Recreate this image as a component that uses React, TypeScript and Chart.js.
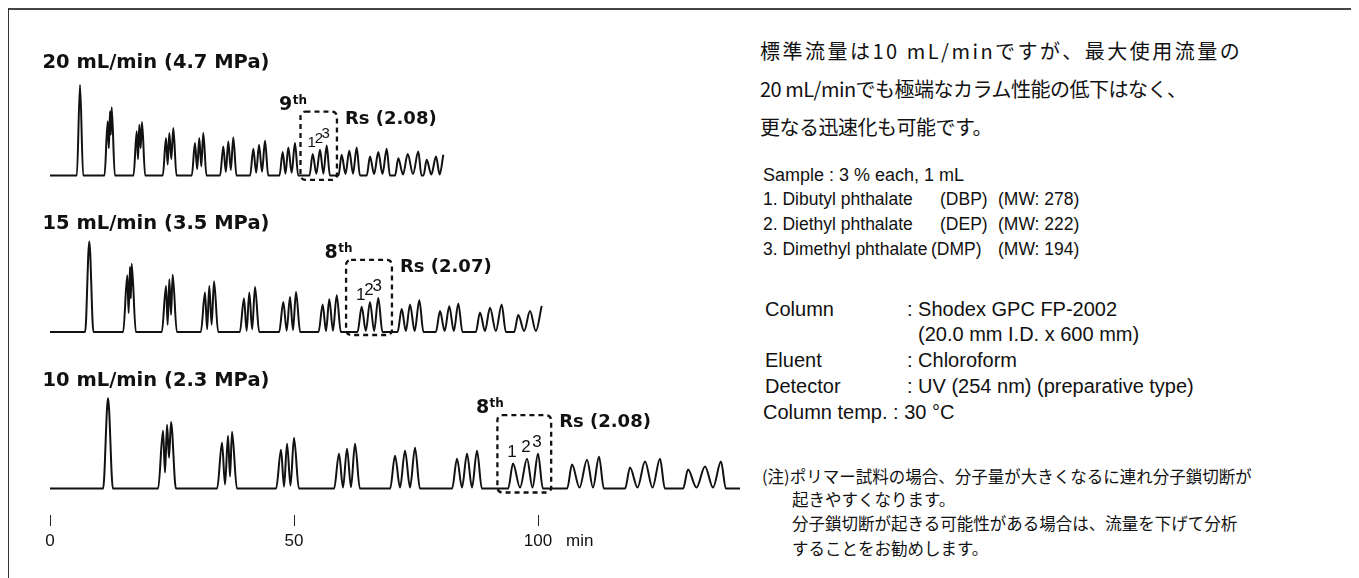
import React, { useEffect, useRef } from "react";
import { Chart, registerables } from "chart.js";

Chart.register(...registerables);

// ---------- text ----------
const TRACE_LABELS = ["20 mL/min (4.7 MPa)", "15 mL/min (3.5 MPa)", "10 mL/min (2.3 MPa)"];
const HIGHLIGHT_CYCLE = [9, 8, 8];
const RS_VALUES = ["2.08", "2.07", "2.08"];
const PEAK_NUMBERS = ["1", "2", "3"];
const X_TICKS = [0, 50, 100];
const X_UNIT = "min";

const HEADLINE = [
  "標準流量は10 mL/minですが、最大使用流量の",
  "20 mL/minでも極端なカラム性能の低下はなく、",
  "更なる迅速化も可能です。",
];
const SAMPLE_LINE = "Sample : 3 % each, 1 mL";
const COMPOUNDS = ["1. Dibutyl phthalate", "2. Diethyl phthalate", "3. Dimethyl phthalate"];
const ABBREVIATIONS = ["(DBP)", "(DEP)", "(DMP)"];
const MOL_WEIGHTS = ["(MW: 278)", "(MW: 222)", "(MW: 194)"];
const CONDITION_KEYS = ["Column", "", "Eluent", "Detector"];
const CONDITION_VALUES = [": Shodex GPC FP-2002", "(20.0 mm I.D. x 600 mm)", ": Chloroform", ": UV (254 nm) (preparative type)"];
const TEMP_LINE = "Column temp. : 30 °C";
const NOTE_LINES = [
  "(注)ポリマー試料の場合、分子量が大きくなるに連れ分子鎖切断が",
  "起きやすくなります。",
  "分子鎖切断が起きる可能性がある場合は、流量を下げて分析",
  "することをお勧めします。",
];

// ---------- chromatogram data (apex time in min, apex height, valley height between apexes) ----------
// 20 mL/min
const RT_20 = [
  [6.15], [11.82, 12.3, 12.64], [17.77, 18.3, 18.85], [23.77, 24.45, 25.27], [29.71, 30.59, 31.41],
  [35.51, 36.54, 37.56], [41.66, 42.83, 44.06], [47.68, 48.83, 50.2], [53.83, 55.33, 56.7],
  [59.77, 61.33, 62.85], [65.57, 67.27, 69.0], [71.37, 73.3, 75.47], [77.19, 79.1, 80.6],
];
const H_20 = [
  [100], [59.8, 70.9, 75.3], [48.7, 56.1, 59.1], [41.3, 46.9, 52.4], [35.8, 41.3, 46.9],
  [32.0, 37.6, 42.0], [29.4, 33.9, 38.3], [25.8, 30.9, 35.8], [23.6, 28.3, 33.1],
  [22.8, 27.2, 30.9], [20.9, 25.8, 29.4], [19.1, 23.6, 26.4], [17.2, 20.9, 22.8],
];
const V_20 = [
  [], [30, 45], [18, 30], [12, 18], [7, 10], [4, 6], [3, 4], [2, 3], [2, 2], [1.5, 2], [1.5, 1.5], [1, 1.5], [1, 1],
];
// 15 mL/min
const RT_15 = [
  [8.05], [15.84, 16.39, 16.74], [23.77, 24.45, 25.14], [31.76, 32.64, 33.61], [39.75, 40.84, 42.01],
  [47.81, 49.18, 50.41], [55.88, 57.23, 58.75], [63.87, 65.57, 67.27], [72.07, 73.77, 75.68],
  [79.92, 81.82, 83.67], [88.11, 90.16, 92.56], [95.96, 98.36, 100.76],
];
const H_15 = [
  [100], [62.6, 71.8, 75.5], [50.9, 58.2, 63.4], [43.6, 50.9, 56.0], [37.0, 43.6, 49.8],
  [33.3, 38.8, 44.3], [30.4, 36.3, 40.7], [27.8, 33.3, 37.7], [25.3, 30.4, 35.2],
  [23.1, 28.6, 31.5], [21.6, 26.7, 30.4], [18.7, 23.1, 28.9],
];
const V_15 = [
  [], [21, 37], [8, 19], [3, 8], [1.5, 3], [1.5, 2], [1, 1.5], [1, 1], [1, 1], [1, 1], [1, 1], [1, 1],
];
// 10 mL/min
const RT_10 = [
  [11.89], [23.16, 23.98, 24.8], [35.25, 36.48, 37.3], [47.34, 48.57, 50.0], [59.22, 60.86, 62.5],
  [70.7, 72.75, 74.8], [83.4, 85.45, 87.5], [94.88, 97.75, 100.0], [106.97, 110.04, 112.5],
  [118.85, 121.93, 125.0], [130.74, 134.22, 137.5],
];
const H_10 = [
  [100], [63.7, 70.3, 73.6], [50.5, 58.2, 62.6], [42.9, 49.5, 56.0], [38.5, 44.0, 49.5],
  [36.3, 41.8, 45.1], [33.0, 38.5, 41.8], [27.5, 33.0, 38.5], [26.4, 31.9, 35.2],
  [23.1, 29.7, 33.0], [20.9, 24.2, 29.7],
];
const V_10 = [
  [], [17.6, 34], [4.4, 13.2], [2, 3.3], [1, 1.5], [1, 1], [1, 1], [1, 1], [1, 1], [1, 1], [1, 1],
];
const END_TIME = [80.6, 100.76, 141.4];
const HALF_WIDTH = [0.65, 0.85, 1.0];

// ---------- layout / style constants ----------
const TRACE_OFFSET = [345.9, 172.9, 0];
const BOX_PAD = [[2.5, 2.1], [3.2, 2.8], [3.2, 2.7]];
const BOX_TOP = [70.5, 79.6, 81];
const BOX_BOTTOM_PX = [4.5, 3, 4];
const TITLE_RISE = [107, 103, 102];
const DIGIT_SIZE = [15, 17, 17];
const INK = "#111";
const LATIN = '"Liberation Sans", Arial, Helvetica, sans-serif';
const CJK = '"Noto Sans CJK JP", "Noto Sans", sans-serif';
const BOLD = '"DejaVu Sans", "Liberation Sans", sans-serif';

type Pt = { x: number; y: number };

function buildTrace(rt: number[][], h: number[][], v: number[][], hw: number, end: number, off: number): Pt[] {
  const pts: Pt[] = [{ x: 0, y: off }];
  rt.forEach((g, gi) => {
    const first = g[0] - hw;
    if (first > pts[pts.length - 1].x) pts.push({ x: first, y: off });
    g.forEach((t, i) => {
      pts.push({ x: t, y: off + h[gi][i] });
      if (i < g.length - 1) pts.push({ x: (t + g[i + 1]) / 2, y: off + v[gi][i] });
    });
    const last = g[g.length - 1];
    const isLast = gi === rt.length - 1;
    if (!isLast || end > last + hw) pts.push({ x: last + hw, y: off });
  });
  if (end > pts[pts.length - 1].x) pts.push({ x: end, y: off });
  return pts;
}

const TRACES = [
  { rt: RT_20, h: H_20, v: V_20 },
  { rt: RT_15, h: H_15, v: V_15 },
  { rt: RT_10, h: H_10, v: V_10 },
];

function roundRectPath(ctx: CanvasRenderingContext2D, x0: number, y0: number, x1: number, y1: number, r: number) {
  ctx.beginPath();
  ctx.moveTo(x0 + r, y0);
  ctx.lineTo(x1 - r, y0);
  ctx.arcTo(x1, y0, x1, y0 + r, r);
  ctx.lineTo(x1, y1 - r);
  ctx.arcTo(x1, y1, x1 - r, y1, r);
  ctx.lineTo(x0 + r, y1);
  ctx.arcTo(x0, y1, x0, y1 - r, r);
  ctx.lineTo(x0, y0 + r);
  ctx.arcTo(x0, y0, x0 + r, y0, r);
  ctx.closePath();
}

const annotate = {
  id: "annotate",
  afterDatasetsDraw(chart: any) {
    const { ctx } = chart;
    const xs = chart.scales.x;
    const ys = chart.scales.y;
    ctx.save();
    ctx.fillStyle = INK;
    ctx.strokeStyle = INK;
    TRACES.forEach((tr, i) => {
      const off = TRACE_OFFSET[i];
      const base = ys.getPixelForValue(off);
      // title
      ctx.font = `bold 19.5px ${BOLD}`;
      ctx.textAlign = "left";
      ctx.textBaseline = "alphabetic";
      ctx.fillText(TRACE_LABELS[i], 33.5, base - TITLE_RISE[i]);

      // highlight box
      const gi = HIGHLIGHT_CYCLE[i] - 1;
      const g = tr.rt[gi];
      const bx0 = xs.getPixelForValue(g[0] - BOX_PAD[i][0]);
      const bx1 = xs.getPixelForValue(g[g.length - 1] + BOX_PAD[i][1]);
      const by0 = ys.getPixelForValue(off + BOX_TOP[i]);
      const by1 = base + BOX_BOTTOM_PX[i];
      ctx.setLineDash([5, 4]);
      ctx.lineWidth = 2.3;
      roundRectPath(ctx, bx0, by0, bx1, by1, 5);
      ctx.stroke();
      ctx.setLineDash([]);

      // ordinal, e.g. 9th
      ctx.font = `bold 19px ${BOLD}`;
      const num = String(HIGHLIGHT_CYCLE[i]);
      const wNum = ctx.measureText(num).width;
      ctx.font = `bold 12px ${BOLD}`;
      const wTh = ctx.measureText("th").width;
      const ox = bx0 - wNum - wTh + 6;
      const oy = by0 - 2;
      ctx.font = `bold 19px ${BOLD}`;
      ctx.fillText(num, ox, oy);
      ctx.font = `bold 12px ${BOLD}`;
      ctx.fillText("th", ox + wNum + 0.5, oy - 6);

      // Rs
      ctx.font = `bold 18px ${BOLD}`;
      ctx.fillText(`Rs (${RS_VALUES[i]})`, bx1 + 8, by0 + 12);

      // peak numbers
      ctx.font = `${DIGIT_SIZE[i]}px ${LATIN}`;
      ctx.textAlign = "center";
      g.forEach((t, k) => {
        const px = xs.getPixelForValue(t);
        const py = ys.getPixelForValue(off + tr.h[gi][k]);
        ctx.fillText(PEAK_NUMBERS[k], px - 1, py - 7);
      });
    });
    // axis unit
    ctx.font = `17px ${LATIN}`;
    ctx.textAlign = "left";
    ctx.textBaseline = "middle";
    ctx.fillText(X_UNIT, xs.getPixelForValue(100) + 28, xs.top + 11 + 5 + 10.2);
    ctx.restore();
  },
};

function Chromatogram() {
  const ref = useRef<HTMLCanvasElement | null>(null);
  useEffect(() => {
    if (!ref.current) return;
    const chart = new Chart(ref.current, {
      type: "line",
      data: {
        datasets: TRACES.map((tr, i) => ({
          label: TRACE_LABELS[i],
          data: buildTrace(tr.rt, tr.h, tr.v, HALF_WIDTH[i], END_TIME[i], TRACE_OFFSET[i]),
          borderColor: INK,
          borderWidth: 2,
          pointRadius: 0,
          fill: false,
          cubicInterpolationMode: "monotone",
          borderJoinStyle: "round",
        })),
      },
      options: {
        animation: false,
        responsive: true,
        maintainAspectRatio: false,
        events: [],
        layout: { padding: { left: 11.72, right: 11.04, top: 20, bottom: 12.6 } },
        plugins: { legend: { display: false }, tooltip: { enabled: false } },
        scales: {
          x: {
            type: "linear",
            min: -6,
            max: 142,
            afterBuildTicks: (s: any) => {
              s.ticks = X_TICKS.map((v) => ({ value: v }));
            },
            ticks: {
              color: INK,
              padding: 5,
              maxRotation: 0,
              autoSkip: false,
              font: { family: LATIN, size: 17 },
              callback: (v: any) => String(v),
            },
            grid: { display: true, drawOnChartArea: false, drawTicks: true, tickLength: 11, color: "#222", lineWidth: 1 },
            border: { display: false },
          },
          y: { display: false, min: -29.28, max: 507.7 },
        },
      } as any,
      plugins: [annotate],
    });
    return () => chart.destroy();
  }, []);
  return (
    <div style={{ position: "absolute", left: 1, top: 1, width: 745, height: 560 }}>
      <canvas ref={ref} />
    </div>
  );
}

// page coords -> container coords (container sits at 8,8)
function T({ x, yc, size, font, cjk, ls, children }: any) {
  const top = yc - 8 - (cjk ? 0.55 : 0.49) * size;
  return (
    <div
      style={{
        position: "absolute",
        left: x - 8,
        top,
        fontSize: size,
        lineHeight: `${size}px`,
        fontFamily: font,
        whiteSpace: "nowrap",
        letterSpacing: ls ? `${ls}px` : undefined,
        color: INK,
      }}
    >
      {children}
    </div>
  );
}

export default function App() {
  const headY = [52, 90, 128];
  const headLs = [2.5, -0.5, -0.5];
  const compY = [200, 225, 250];
  const abbrX = [940, 940, 931];
  const condY = [309, 334, 360, 386];
  const condX = [907, 918, 907, 907];
  const noteY = [477, 500, 524, 549];
  const noteX = [762, 792, 792, 792];
  return (
    <div style={{ position: "relative", width: 1351, height: 570, background: "#fff", overflow: "hidden" }}>
      <div style={{ position: "absolute", left: 0, top: 0, width: 1351, height: 2, background: "#444" }} />
      <div style={{ position: "absolute", left: 0, top: 0, width: 1, height: 570, background: "#333" }} />
      <Chromatogram />
      {HEADLINE.map((s, i) => (
        <T key={"h" + i} x={760} yc={headY[i]} size={20} font={CJK} cjk ls={headLs[i]}>
          {s}
        </T>
      ))}
      <T x={763} yc={175} size={18} font={LATIN}>
        {SAMPLE_LINE}
      </T>
      {COMPOUNDS.map((s, i) => (
        <React.Fragment key={"c" + i}>
          <T x={763} yc={compY[i]} size={17.5} font={LATIN}>
            {s}
          </T>
          <T x={abbrX[i]} yc={compY[i]} size={17.5} font={LATIN}>
            {ABBREVIATIONS[i]}
          </T>
          <T x={998} yc={compY[i]} size={17.5} font={LATIN}>
            {MOL_WEIGHTS[i]}
          </T>
        </React.Fragment>
      ))}
      {CONDITION_VALUES.map((s, i) => (
        <React.Fragment key={"k" + i}>
          {CONDITION_KEYS[i] ? (
            <T x={765} yc={condY[i]} size={20} font={LATIN}>
              {CONDITION_KEYS[i]}
            </T>
          ) : null}
          <T x={condX[i]} yc={condY[i]} size={20} font={LATIN}>
            {s}
          </T>
        </React.Fragment>
      ))}
      <T x={763} yc={412} size={20} font={LATIN}>
        {TEMP_LINE}
      </T>
      {NOTE_LINES.map((s, i) => (
        <T key={"n" + i} x={noteX[i]} yc={noteY[i]} size={16.5} font={CJK} cjk>
          {s}
        </T>
      ))}
    </div>
  );
}
